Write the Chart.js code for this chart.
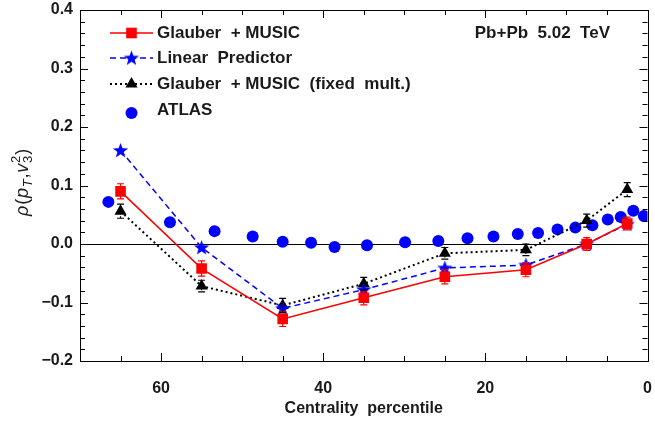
<!DOCTYPE html>
<html>
<head>
<meta charset="utf-8">
<script src="https://cdn.jsdelivr.net/npm/chart.js@4.4.0/dist/chart.umd.min.js"></script>
<style>
  html, body { margin: 0; padding: 0; background: #fff; }
  #wrap { width: 655px; height: 425px; }
</style>
</head>
<body>
<div id="wrap"><canvas id="chart" width="655" height="425"></canvas></div>
<script>
// centrality bin centres for the model curves
const centrality = [65, 55, 45, 35, 25, 15, 7.5, 2.5];
const glauberMusic = [0.090, -0.042, -0.128, -0.092, -0.056, -0.044, 0.000, 0.035];
const glauberErr = [0.013, 0.013, 0.013, 0.012, 0.012, 0.012, 0.011, 0.011];
const linearPredictor = [0.160, -0.006, -0.110, -0.078, -0.041, -0.036, 0.000, 0.034];
const fixedMult = [0.056, -0.072, -0.105, -0.068, -0.016, -0.010, 0.040, 0.093];
const fixedErr = [0.012, 0.010, 0.012, 0.011, 0.010, 0.010, 0.011, 0.012];
// ATLAS points
const atlasX = [66.5, 58.9, 53.4, 48.7, 45.0, 41.5, 38.6, 34.6, 29.9, 25.8, 22.2, 19.0, 16.0, 13.5, 11.1, 8.9, 6.8, 4.9, 3.3, 1.75, 0.45];
const atlasY = [0.072, 0.037, 0.022, 0.013, 0.004, 0.002, -0.005, -0.002, 0.003, 0.005, 0.010, 0.013, 0.017, 0.019, 0.025, 0.028, 0.032, 0.042, 0.046, 0.057, 0.048];

const legendNames = ["Glauber  + MUSIC", "Linear  Predictor", "Glauber  + MUSIC  (fixed  mult.)", "ATLAS"];

const FONT = "'Liberation Sans', Arial, sans-serif";

function starImage(color) {
  const c = document.createElement("canvas");
  c.width = 17; c.height = 17;
  const g = c.getContext("2d");
  g.fillStyle = color;
  g.beginPath();
  for (let i = 0; i < 10; i++) {
    const r = i % 2 === 0 ? 8 : 3.3;
    const a = -Math.PI / 2 + i * Math.PI / 5;
    const px = 8.5 + r * Math.cos(a), py = 9 + r * Math.sin(a);
    if (i === 0) g.moveTo(px, py); else g.lineTo(px, py);
  }
  g.closePath();
  g.fill();
  return c;
}
const star = starImage("#0000ff");

function pts(xs, ys) {
  return xs.map((x, i) => ({ x: x, y: ys[i] }));
}

const datasets = [
  {
    label: legendNames[0],
    data: pts(centrality, glauberMusic),
    err: glauberErr, errColor: "#ff0000", errDash: [],
    borderColor: "#ff0000", backgroundColor: "#ff0000",
    borderWidth: 1.5, pointStyle: "rect", pointRadius: 7.5,
    pointBorderWidth: 0, showLine: true
  },
  {
    label: legendNames[1],
    data: pts(centrality, linearPredictor),
    borderColor: "#0000ff", backgroundColor: "#0000ff",
    borderWidth: 1.5, borderDash: [6, 4], pointStyle: star,
    showLine: true
  },
  {
    label: legendNames[2],
    data: pts(centrality, fixedMult),
    err: fixedErr, errColor: "#000", errDash: [2, 2],
    borderColor: "#000", backgroundColor: "#000",
    borderWidth: 2, borderDash: [2, 3], pointStyle: "triangle", pointRadius: 7,
    pointBorderWidth: 0, showLine: true
  },
  {
    label: legendNames[3],
    data: pts(atlasX, atlasY),
    borderColor: "#0000ff", backgroundColor: "#0000ff",
    pointStyle: "circle", pointRadius: 6, pointBorderWidth: 0,
    showLine: false
  }
];

const errorBars = {
  id: "errorBars",
  afterDatasetsDraw(chart) {
    const ctx = chart.ctx, xs = chart.scales.x, ys = chart.scales.y;
    chart.data.datasets.forEach(ds => {
      if (!ds.err) return;
      ctx.save();
      ctx.strokeStyle = ds.errColor;
      ctx.lineWidth = 1.2;
      ds.data.forEach((p, i) => {
        const x = xs.getPixelForValue(p.x);
        const y1 = ys.getPixelForValue(p.y + ds.err[i]);
        const y2 = ys.getPixelForValue(p.y - ds.err[i]);
        ctx.setLineDash(ds.errDash);
        ctx.beginPath();
        ctx.moveTo(x, y1); ctx.lineTo(x, y2);
        ctx.stroke();
        ctx.setLineDash([]);
        ctx.beginPath();
        ctx.moveTo(x - 3.5, y1); ctx.lineTo(x + 3.5, y1);
        ctx.moveTo(x - 3.5, y2); ctx.lineTo(x + 3.5, y2);
        ctx.stroke();
      });
      ctx.restore();
    });
  }
};

const frame = {
  id: "frame",
  beforeDatasetsDraw(chart) {
    const ctx = chart.ctx, a = chart.chartArea, ys = chart.scales.y;
    ctx.save();
    ctx.strokeStyle = "#000";
    ctx.lineWidth = 1;
    // zero line
    const y0 = Math.round(ys.getPixelForValue(0)) + 0.5;
    ctx.beginPath();
    ctx.moveTo(a.left, y0); ctx.lineTo(a.right, y0);
    ctx.stroke();
    ctx.restore();
  },
  afterDraw(chart) {
    const ctx = chart.ctx, a = chart.chartArea, xs = chart.scales.x, ys = chart.scales.y;
    ctx.save();
    ctx.strokeStyle = "#000";
    ctx.lineWidth = 1;
    ctx.strokeRect(Math.round(a.left) + 0.5, Math.round(a.top) + 0.5,
      Math.round(a.right - a.left), Math.round(a.bottom - a.top));
    ctx.beginPath();
    for (let v = 0; v <= 70; v += 5) {
      const x = Math.round(xs.getPixelForValue(v)) + 0.5;
      const len = v % 20 === 0 ? 8 : 5;
      ctx.moveTo(x, a.bottom); ctx.lineTo(x, a.bottom - len);
      ctx.moveTo(x, a.top); ctx.lineTo(x, a.top + len);
    }
    for (let k = -10; k <= 20; k++) {
      const v = k * 0.02;
      const y = Math.round(ys.getPixelForValue(v)) + 0.5;
      const len = k % 5 === 0 ? 8 : 5;
      ctx.moveTo(a.left, y); ctx.lineTo(a.left + len, y);
      ctx.moveTo(a.right, y); ctx.lineTo(a.right - len, y);
    }
    ctx.stroke();
    ctx.restore();
  }
};

const legendBox = {
  id: "legendBox",
  afterDraw(chart) {
    const ctx = chart.ctx;
    const rows = [33, 58, 84, 110];
    ctx.save();
    chart.data.datasets.forEach((ds, i) => {
      const y = rows[i];
      if (ds.showLine) {
        ctx.strokeStyle = ds.borderColor;
        ctx.lineWidth = ds.borderWidth;
        ctx.setLineDash(ds.borderDash || []);
        ctx.beginPath();
        ctx.moveTo(110, y); ctx.lineTo(153, y);
        ctx.stroke();
        ctx.setLineDash([]);
      }
      ctx.fillStyle = ds.backgroundColor;
      ctx.strokeStyle = ds.backgroundColor;
      Chart.helpers.drawPoint(ctx, {
        pointStyle: ds.pointStyle,
        radius: ds.pointRadius !== undefined ? ds.pointRadius : 3,
        borderWidth: 0,
        rotation: 0
      }, 131.5, i === 3 ? y + 3 : y);
      ctx.fillStyle = "#1a1a1a";
      ctx.font = "bold 17px " + FONT;
      ctx.textBaseline = "middle";
      ctx.textAlign = "left";
      ctx.fillText(ds.label, 157, y);
    });
    // collision system label
    ctx.fillStyle = "#1a1a1a";
    ctx.font = "bold 17px " + FONT;
    ctx.textAlign = "right";
    ctx.textBaseline = "middle";
    ctx.fillText("Pb+Pb  5.02  TeV", 610, 33);
    ctx.restore();
  }
};

const yTitle = {
  id: "yTitle",
  afterDraw(chart) {
    const ctx = chart.ctx;
    const big = "18px " + FONT, bigI = "italic 18px " + FONT, small = "13px " + FONT, smallI = "italic 13px " + FONT;
    const parts = [
      { t: "ρ", f: bigI, dy: 0 },
      { t: "(", f: big, dy: 0 },
      { t: "p", f: bigI, dy: 0 },
      { t: "T", f: smallI, dy: 4 },
      { t: ",", f: big, dy: 0 },
      { t: "v", f: bigI, dy: 0 },
      { t: "3", f: small, dy: 4, stack: true },
      { t: "2", f: small, dy: -8 },
      { t: ")", f: big, dy: 0 }
    ];
    ctx.save();
    let total = 0;
    parts.forEach(p => { ctx.font = p.f; p.w = ctx.measureText(p.t).width; if (!p.stack) total += p.w + 0.8; });
    ctx.translate(28, 182);
    ctx.rotate(-Math.PI / 2);
    ctx.fillStyle = "#1a1a1a";
    ctx.textBaseline = "alphabetic";
    ctx.textAlign = "left";
    let x = -total / 2;
    parts.forEach(p => {
      ctx.font = p.f;
      ctx.fillText(p.t, x, p.dy);
      if (!p.stack) x += p.w + 0.8;
    });
    ctx.restore();
  }
};

new Chart(document.getElementById("chart").getContext("2d"), {
  type: "scatter",
  data: { datasets: datasets },
  options: {
    responsive: false,
    animation: false,
    layout: { padding: { top: 10, right: 3, left: 0, bottom: 0 } },
    plugins: { legend: { display: false }, tooltip: { enabled: false } },
    scales: {
      x: {
        type: "linear", min: 0, max: 70, reverse: true,
        afterFit(s) { s.height = 64; s.paddingLeft = 0; s.paddingRight = 0; },
        grid: { display: false, drawTicks: false },
        border: { display: false },
        ticks: {
          stepSize: 5, autoSkip: false, maxRotation: 0, padding: 18,
          color: "#1a1a1a", font: { family: FONT, size: 16, weight: "bold" },
          callback: v => (v % 20 === 0 ? String(v) : "")
        },
        title: {
          display: true, text: "Centrality  percentile", color: "#1a1a1a",
          font: { family: FONT, size: 16, weight: "bold" },
          padding: { top: 0, bottom: 7 }
        }
      },
      y: {
        type: "linear", min: -0.2, max: 0.4,
        afterFit(s) { s.width = 80; s.paddingTop = 0; s.paddingBottom = 0; },
        grid: { display: false, drawTicks: false },
        border: { display: false },
        ticks: {
          stepSize: 0.02, autoSkip: false, padding: 7,
          color: "#1a1a1a", font: { family: FONT, size: 16, weight: "bold" },
          callback: v => {
            const r = Math.round(v * 10);
            if (Math.abs(v * 10 - r) > 1e-6) return "";
            return (r / 10).toFixed(1).replace("-", "\u2212");
          }
        }
      }
    }
  },
  plugins: [frame, errorBars, legendBox, yTitle]
});
</script>
</body>
</html>
